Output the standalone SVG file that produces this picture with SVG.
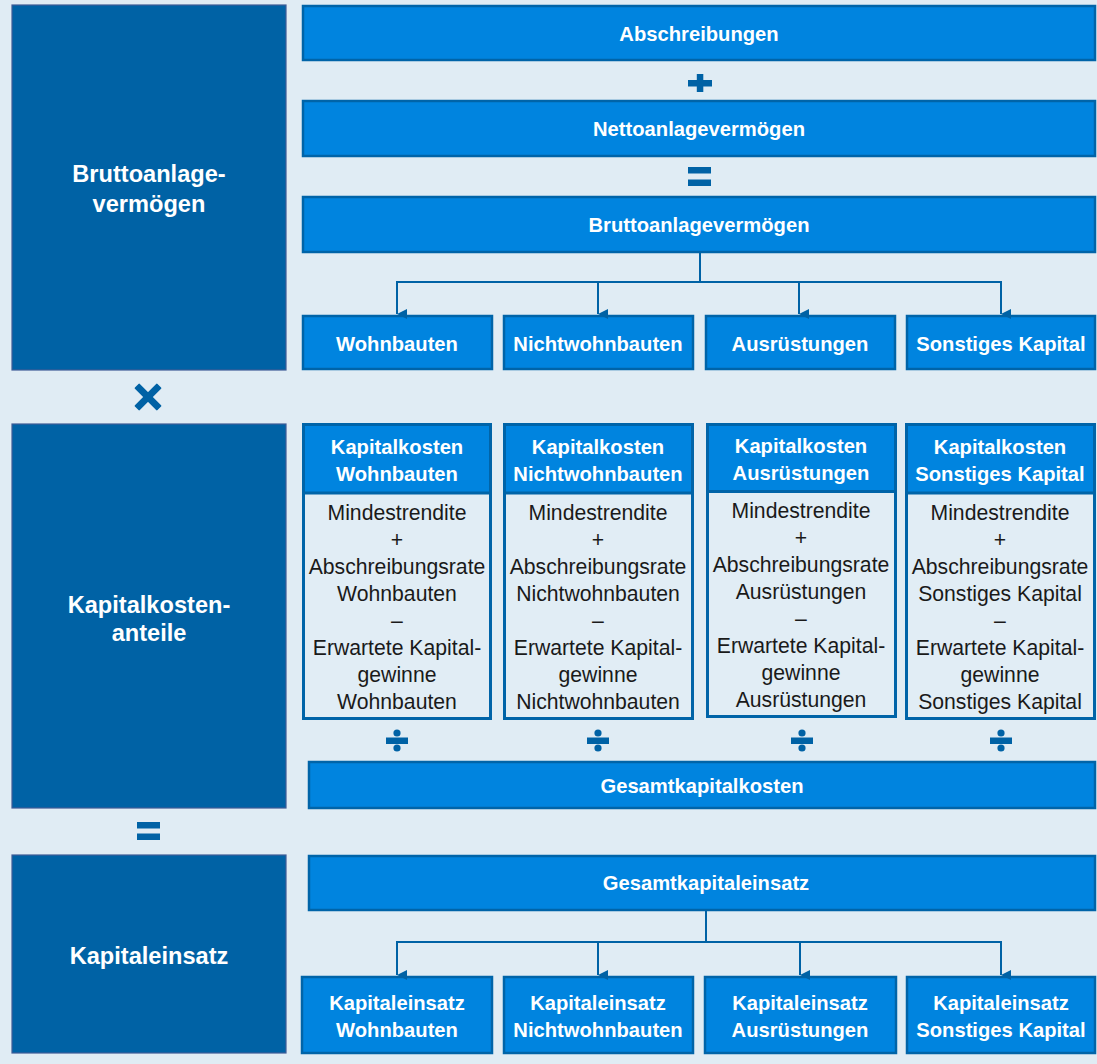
<svg xmlns="http://www.w3.org/2000/svg" width="1097" height="1064" viewBox="0 0 1097 1064">
<defs>
<style>
.bg{fill:#E0ECF4}
.dark{fill:#0062A5;stroke:#3E5C96;stroke-width:1.2}
.blue{fill:#0084DF;stroke:#0064A8;stroke-width:2.5}
.body{fill:#E1EDF5;stroke:#0064A8;stroke-width:3}
.hdr{fill:#0084DF}
.sep{stroke:#0064A8;stroke-width:3}
.lt{font-family:"Liberation Sans",Arial,sans-serif;font-weight:bold;font-size:23.6px;fill:#FFFFFF;text-anchor:middle}
.wt{font-family:"Liberation Sans",Arial,sans-serif;font-weight:bold;font-size:20.2px;fill:#FFFFFF;text-anchor:middle}
.bt{font-family:"Liberation Sans",Arial,sans-serif;font-size:21.2px;fill:#1A1A1A;text-anchor:middle}
.op{fill:#0062A5}
.conn{fill:none;stroke:#0062A5;stroke-width:2}
</style>
<marker id="arr" viewBox="0 0 10 10" refX="5" refY="10" markerWidth="10" markerHeight="10" markerUnits="userSpaceOnUse" orient="auto-start-reverse">
<path d="M0,0 L10,0 L5,10 Z" fill="#0062A5"/>
</marker>
</defs>
<rect class="bg" x="0" y="0" width="1097" height="1064"/>

<g id="left-brutto">
<rect class="dark" x="12" y="5" width="274" height="365"/>
<text class="lt" x="149" y="182">Bruttoanlage-</text>
<text class="lt" x="149" y="212">vermögen</text>
</g>
<g id="op-mult" class="op">
<rect x="144.5" y="381" width="7" height="32" rx="1" transform="rotate(45 148 397)"/>
<rect x="144.5" y="381" width="7" height="32" rx="1" transform="rotate(-45 148 397)"/>
</g>
<g id="left-kk">
<rect class="dark" x="12" y="424" width="274" height="384"/>
<text class="lt" x="149" y="613">Kapitalkosten-</text>
<text class="lt" x="149" y="641">anteile</text>
</g>
<g id="op-eq-left" class="op">
<rect x="137" y="822" width="23" height="6.5"/>
<rect x="137" y="833.5" width="23" height="6.5"/>
</g>
<g id="left-ke">
<rect class="dark" x="12" y="855" width="274" height="198"/>
<text class="lt" x="149" y="964">Kapitaleinsatz</text>
</g>

<g id="abschreibungen">
<rect class="blue" x="303" y="6" width="792" height="54"/>
<text class="wt" x="699" y="41">Abschreibungen</text>
</g>
<g id="op-plus" class="op">
<rect x="688" y="80" width="24" height="6.5"/>
<rect x="696.8" y="74" width="6.5" height="18"/>
</g>
<g id="netto">
<rect class="blue" x="303" y="101" width="792" height="55"/>
<text class="wt" x="699" y="136">Nettoanlagevermögen</text>
</g>
<g id="op-eq-top" class="op">
<rect x="688" y="167" width="23" height="6.5"/>
<rect x="688" y="179.5" width="23" height="6.5"/>
</g>
<g id="brutto">
<rect class="blue" x="303" y="197" width="792" height="55"/>
<text class="wt" x="699" y="232">Bruttoanlagevermögen</text>
</g>

<g id="wohnbauten">
<rect class="blue" x="303" y="316" width="189" height="53"/>
<text class="wt" x="397" y="351">Wohnbauten</text>
</g>
<g id="nichtwohnbauten">
<rect class="blue" x="504" y="316" width="189" height="53"/>
<text class="wt" x="598" y="351">Nichtwohnbauten</text>
</g>
<g id="ausruestungen">
<rect class="blue" x="706" y="316" width="189" height="53"/>
<text class="wt" x="800" y="351">Ausrüstungen</text>
</g>
<g id="sonstiges">
<rect class="blue" x="907" y="316" width="188" height="53"/>
<text class="wt" x="1001" y="351">Sonstiges Kapital</text>
</g>

<g id="kk-wohnbauten">
<rect class="body" x="303.5" y="424.5" width="187" height="294"/>
<rect class="hdr" x="305" y="426" width="184" height="66"/>
<line class="sep" x1="303.5" y1="493" x2="490.5" y2="493"/>
<text class="wt" x="397" y="454">Kapitalkosten</text>
<text class="wt" x="397" y="481">Wohnbauten</text>
<text class="bt" x="397" y="520">Mindestrendite</text>
<text class="bt" x="397" y="547">+</text>
<text class="bt" x="397" y="574">Abschreibungsrate</text>
<text class="bt" x="397" y="601">Wohnbauten</text>
<text class="bt" x="397" y="628">–</text>
<text class="bt" x="397" y="655">Erwartete Kapital-</text>
<text class="bt" x="397" y="682">gewinne</text>
<text class="bt" x="397" y="709">Wohnbauten</text>
</g>
<g id="kk-nichtwohnbauten">
<rect class="body" x="504.5" y="424.5" width="188" height="294"/>
<rect class="hdr" x="506" y="426" width="185" height="66"/>
<line class="sep" x1="504.5" y1="493" x2="692.5" y2="493"/>
<text class="wt" x="598" y="454">Kapitalkosten</text>
<text class="wt" x="598" y="481">Nichtwohnbauten</text>
<text class="bt" x="598" y="520">Mindestrendite</text>
<text class="bt" x="598" y="547">+</text>
<text class="bt" x="598" y="574">Abschreibungsrate</text>
<text class="bt" x="598" y="601">Nichtwohnbauten</text>
<text class="bt" x="598" y="628">–</text>
<text class="bt" x="598" y="655">Erwartete Kapital-</text>
<text class="bt" x="598" y="682">gewinne</text>
<text class="bt" x="598" y="709">Nichtwohnbauten</text>
</g>
<g id="kk-ausruestungen">
<rect class="body" x="707.5" y="424.5" width="188" height="292"/>
<rect class="hdr" x="709" y="426" width="185" height="65"/>
<line class="sep" x1="707.5" y1="491.5" x2="895.5" y2="491.5"/>
<text class="wt" x="801" y="453">Kapitalkosten</text>
<text class="wt" x="801" y="480">Ausrüstungen</text>
<text class="bt" x="801" y="518">Mindestrendite</text>
<text class="bt" x="801" y="545">+</text>
<text class="bt" x="801" y="572">Abschreibungsrate</text>
<text class="bt" x="801" y="599">Ausrüstungen</text>
<text class="bt" x="801" y="626">–</text>
<text class="bt" x="801" y="653">Erwartete Kapital-</text>
<text class="bt" x="801" y="680">gewinne</text>
<text class="bt" x="801" y="707">Ausrüstungen</text>
</g>
<g id="kk-sonstiges">
<rect class="body" x="906.5" y="424.5" width="188" height="294"/>
<rect class="hdr" x="908" y="426" width="185" height="66"/>
<line class="sep" x1="906.5" y1="493" x2="1094.5" y2="493"/>
<text class="wt" x="1000" y="454">Kapitalkosten</text>
<text class="wt" x="1000" y="481">Sonstiges Kapital</text>
<text class="bt" x="1000" y="520">Mindestrendite</text>
<text class="bt" x="1000" y="547">+</text>
<text class="bt" x="1000" y="574">Abschreibungsrate</text>
<text class="bt" x="1000" y="601">Sonstiges Kapital</text>
<text class="bt" x="1000" y="628">–</text>
<text class="bt" x="1000" y="655">Erwartete Kapital-</text>
<text class="bt" x="1000" y="682">gewinne</text>
<text class="bt" x="1000" y="709">Sonstiges Kapital</text>
</g>

<g id="op-div" class="op">
<circle cx="397" cy="733" r="3.6"/><rect x="386" y="737.5" width="22" height="6.5"/><circle cx="397" cy="748" r="3.6"/>
<circle cx="598" cy="733" r="3.6"/><rect x="587" y="737.5" width="22" height="6.5"/><circle cx="598" cy="748" r="3.6"/>
<circle cx="802" cy="733" r="3.6"/><rect x="791" y="737.5" width="22" height="6.5"/><circle cx="802" cy="748" r="3.6"/>
<circle cx="1001" cy="733" r="3.6"/><rect x="990" y="737.5" width="22" height="6.5"/><circle cx="1001" cy="748" r="3.6"/>
</g>

<g id="gesamtkapitalkosten">
<rect class="blue" x="309" y="762" width="786" height="46"/>
<text class="wt" x="702" y="793">Gesamtkapitalkosten</text>
</g>
<g id="gesamtkapitaleinsatz">
<rect class="blue" x="309" y="856" width="786" height="54"/>
<text class="wt" x="706" y="890">Gesamtkapitaleinsatz</text>
</g>

<g id="ke-wohnbauten">
<rect class="blue" x="302" y="977" width="190" height="76"/>
<text class="wt" x="397" y="1010">Kapitaleinsatz</text>
<text class="wt" x="397" y="1037">Wohnbauten</text>
</g>
<g id="ke-nichtwohnbauten">
<rect class="blue" x="504" y="977" width="189" height="76"/>
<text class="wt" x="598" y="1010">Kapitaleinsatz</text>
<text class="wt" x="598" y="1037">Nichtwohnbauten</text>
</g>
<g id="ke-ausruestungen">
<rect class="blue" x="705" y="977" width="191" height="76"/>
<text class="wt" x="800" y="1010">Kapitaleinsatz</text>
<text class="wt" x="800" y="1037">Ausrüstungen</text>
</g>
<g id="ke-sonstiges">
<rect class="blue" x="907" y="977" width="188" height="76"/>
<text class="wt" x="1001" y="1010">Kapitaleinsatz</text>
<text class="wt" x="1001" y="1037">Sonstiges Kapital</text>
</g>

<g id="connectors">
<path class="conn" d="M700,253 V282 M397,282 H1002"/>
<path class="conn" d="M397,281 V314" marker-end="url(#arr)"/>
<path class="conn" d="M598,282 V314" marker-end="url(#arr)"/>
<path class="conn" d="M799,282 V314" marker-end="url(#arr)"/>
<path class="conn" d="M1001,281 V314" marker-end="url(#arr)"/>
<path class="conn" d="M706,911 V942 M397,942 H1002"/>
<path class="conn" d="M397,941 V975" marker-end="url(#arr)"/>
<path class="conn" d="M598,942 V975" marker-end="url(#arr)"/>
<path class="conn" d="M800,942 V975" marker-end="url(#arr)"/>
<path class="conn" d="M1001,941 V975" marker-end="url(#arr)"/>
</g>
</svg>
